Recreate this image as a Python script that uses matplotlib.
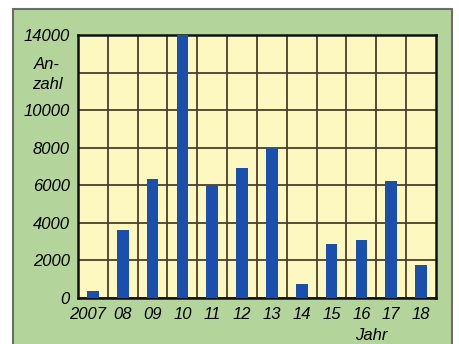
import matplotlib.pyplot as plt
from matplotlib.patches import Rectangle
import matplotlib.transforms as mtransforms

# Anzahl pro Jahr
jahre = ["2007", "08", "09", "10", "11", "12", "13", "14", "15", "16", "17", "18"]
anzahl = [350, 3600, 6300, 14000, 6000, 6900, 8000, 750, 2850, 3080, 6200, 1750]
y_ticks = [0, 2000, 4000, 6000, 8000, 10000, 12000, 14000]
y_labels = ["0", "2000", "4000", "6000", "8000", "10000", "", "14000"]

green = "#b3d59b"
yellow = "#fdf8bf"
blue = "#1b4fae"
gridc = "#4a3f2c"

plt.rcParams["font.family"] = ["Liberation Sans Narrow", "Liberation Sans", "DejaVu Sans"]

fig = plt.figure(figsize=(4.6, 3.44), dpi=100)
fig.patch.set_facecolor("white")

# green panel behind the chart
panel = Rectangle((13 / 460, -0.02), (452 - 13) / 460, 1.02 - 9 / 344,
                  transform=fig.transFigure, facecolor=green,
                  edgecolor="#6b6b6b", linewidth=1.5, zorder=-10)
fig.patches.append(panel)

ax = fig.add_axes([78 / 460, 46.3 / 344, 358 / 460, 262.7 / 344])
ax.set_facecolor(yellow)
ax.set_axisbelow(True)

x = range(len(jahre))
ax.bar(x, anzahl, width=0.39, color=blue, zorder=3)

ax.set_xlim(-0.5, len(jahre) - 0.5)
ax.set_ylim(0, 14000)
ax.set_yticks(y_ticks)
ax.set_yticklabels(y_labels, fontsize=12, style="italic")
ax.set_xticks(list(x))
ax.set_xticklabels(jahre, fontsize=12, style="italic")
ax.set_xticks([i + 0.5 for i in range(len(jahre) - 1)], minor=True)
ax.tick_params(which="both", length=0)
ax.tick_params(axis="y", pad=6)
ax.tick_params(axis="x", pad=7)

# shift the first year label a little to the left so it clears "08"
first = ax.get_xticklabels()[0]
first.set_transform(first.get_transform() +
                    mtransforms.ScaledTranslation(-5 / 100, 0, fig.dpi_scale_trans))

ax.grid(axis="y", which="major", color=gridc, linewidth=1.3)
ax.grid(axis="x", which="minor", color=gridc, linewidth=1.3)
ax.grid(axis="x", which="major", visible=False)

for s in ax.spines.values():
    s.set_color("#111111")
    s.set_linewidth(1.8)

trans = mtransforms.blended_transform_factory(fig.transFigure, ax.transData)
ax.text(47 / 460, 11900, "An-\nzahl", transform=trans, fontsize=12,
        style="italic", ha="center", va="center", linespacing=1.45)
ax.text(371 / 460, 9 / 344, "Jahr", transform=fig.transFigure, fontsize=12,
        style="italic", ha="center", va="center")

fig.savefig("out.png", dpi=100)
